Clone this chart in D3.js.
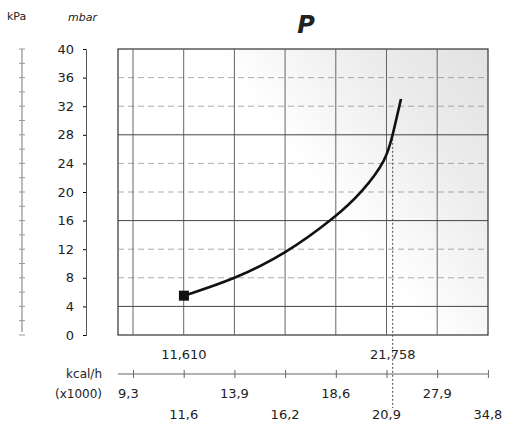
<!DOCTYPE html>
<html><head><meta charset="utf-8">
<script src="https://cdn.jsdelivr.net/npm/d3@7"></script>
<style>body{margin:0;background:#fff}text{font-family:"DejaVu Sans",sans-serif;fill:#222}</style>
</head><body><div id="chart"></div>
<script>
// tick labels
const xTicks = [9.3, 11.6, 13.9, 16.2, 18.6, 20.9, 27.9, 34.8];
const xTickLabels = ["9,3", "11,6", "13,9", "16,2", "18,6", "20,9", "27,9", "34,8"];
const yTicks = [0, 4, 8, 12, 16, 20, 24, 28, 32, 36, 40];
const solidY = [4, 16, 28, 40];
const marks = [11.61, 21.758];
const markLabels = ["11,610", "21,758"];
// curve, kcal/h (x1000) vs mbar
const curveX = [11.61, 13.9, 16.2, 18.6, 19.8, 20.9, 21.758, 22.9];
const curveY = [5.5, 7.8, 11.3, 16.5, 20.0, 24.5, 28.0, 33];

const W = 509, H = 429;
const svg = d3.select("#chart").append("svg").attr("width", W).attr("height", H);

// piecewise scale: ticks evenly spaced
const x = d3.scaleLinear().domain(xTicks).range(xTicks.map((d, i) => 133 + i * 50.7));
const y = d3.scaleLinear().domain([0, 40]).range([335, 49]);

const defs = svg.append("defs");
const g1 = defs.append("linearGradient").attr("id", "shade").attr("x1", 0).attr("x2", 1).attr("y1", 0.6).attr("y2", 0);
g1.append("stop").attr("offset", "0.45").attr("stop-color", "#fff");
g1.append("stop").attr("offset", "0.75").attr("stop-color", "#ececec");
g1.append("stop").attr("offset", "1").attr("stop-color", "#e2e2e2");

svg.append("rect").attr("x", 118).attr("y", y(40)).attr("width", 488 - 118).attr("height", y(0) - y(40))
  .attr("fill", "url(#shade)").attr("stroke", "#333").attr("stroke-width", 1.2);

// grid
svg.append("g").selectAll("line").data(yTicks.filter(d => d > 0 && d < 40)).join("line")
  .attr("x1", 118).attr("x2", 488).attr("y1", d => y(d)).attr("y2", d => y(d))
  .attr("stroke", d => solidY.includes(d) ? "#444" : "#888").attr("stroke-width", d => solidY.includes(d) ? 1 : 0.7)
  .attr("stroke-dasharray", d => solidY.includes(d) ? null : "6,4");
svg.append("g").selectAll("line").data(xTicks.filter(d => d < 34.8)).join("line")
  .attr("x1", d => x(d)).attr("x2", d => x(d)).attr("y1", y(40)).attr("y2", y(0))
  .attr("stroke", "#555").attr("stroke-width", 0.9);
svg.append("line").attr("x1", x(marks[1])).attr("x2", x(marks[1])).attr("y1", y(28)).attr("y2", 408)
  .attr("stroke", "#444").attr("stroke-dasharray", "2,2");

// mbar axis
const ya = svg.append("g").attr("transform", "translate(86,0)")
  .call(d3.axisLeft(y).tickValues(yTicks).tickSize(3).tickFormat(d3.format("d")));
ya.selectAll("text").attr("x", -12).style("font-size", "13px");
ya.select(".domain").attr("stroke", "#555");
// kPa axis
svg.append("line").attr("x1", 22).attr("x2", 22).attr("y1", y(40)).attr("y2", y(0) - 3).attr("stroke", "#777");
svg.append("g").selectAll("line").data(d3.range(0, 41, 2)).join("line")
  .attr("x1", 19).attr("x2", 25).attr("y1", d => y(d)).attr("y2", d => y(d)).attr("stroke", "#999");
svg.append("text").attr("x", 7).attr("y", 20).text("kPa").style("font-size", "11px");
svg.append("text").attr("x", 68).attr("y", 21).text("mbar").style("font-size", "11px").style("font-style", "italic");

// bottom axis
const xa = svg.append("g").attr("transform", "translate(0,374)")
  .call(d3.axisBottom(x).tickValues(xTicks).tickSize(4).tickFormat(""));
xa.select(".domain").attr("d", `M${x(9.3) - 15},0H${x(34.8)}`).attr("stroke", "#666");
xa.selectAll(".tick line").attr("y1", -4).attr("stroke", "#666");
svg.append("g").selectAll("text").data(xTicks).join("text")
  .attr("x", d => x(d)).attr("y", (d, i) => i % 2 === 0 && i < 7 ? 398 : 419)
  .attr("text-anchor", (d, i) => i === 0 ? "start" : "middle")
  .attr("dx", (d, i) => i === 0 ? -15 : 0)
  .text((d, i) => xTickLabels[i]).style("font-size", "13px");
svg.append("g").selectAll("text").data(marks).join("text")
  .attr("x", d => x(d)).attr("y", 359).attr("text-anchor", "middle")
  .text((d, i) => markLabels[i]).style("font-size", "13px");
svg.append("text").attr("x", 102).attr("y", 378).attr("text-anchor", "end").text("kcal/h").style("font-size", "12px");
svg.append("text").attr("x", 102).attr("y", 398).attr("text-anchor", "end").text("(x1000)").style("font-size", "12px");

// curve
const pts = curveX.map((d, i) => [d, curveY[i]]);
svg.append("path").datum(pts)
  .attr("d", d3.line().x(d => x(d[0])).y(d => y(d[1])).curve(d3.curveBasis))
  .attr("fill", "none").attr("stroke", "#111").attr("stroke-width", 2.6);
svg.append("rect").attr("x", x(curveX[0]) - 5).attr("y", y(curveY[0]) - 5).attr("width", 10).attr("height", 10).attr("fill", "#111");

svg.append("text").attr("x", 306).attr("y", 33).attr("text-anchor", "middle").text("P")
  .style("font-size", "24px").style("font-weight", "bold").style("font-style", "italic");
</script></body></html>
